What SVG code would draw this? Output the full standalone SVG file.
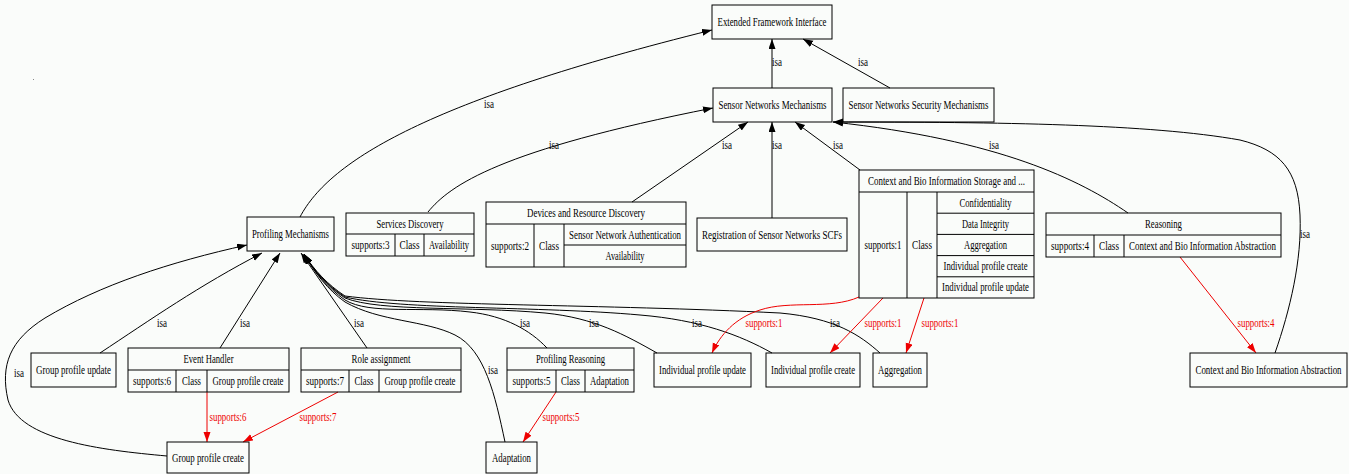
<svg xmlns="http://www.w3.org/2000/svg" width="1349" height="474" viewBox="0 0 1349 474">
<style>
text{font-family:"Liberation Serif","Times New Roman",serif;font-size:12px;text-anchor:middle;fill:#000;}
.n rect,.n line{stroke:#000;stroke-width:1;fill:none;}
.e path{fill:none;stroke:#000;stroke-width:1;}
.e path.r{stroke:#e00;}
text.rl{fill:#e00;}
</style>
<defs>
<marker id="ab" markerUnits="userSpaceOnUse" markerWidth="10" markerHeight="8" refX="10" refY="3.5" orient="auto"><path d="M0,0 L10,3.5 L0,7 z" fill="#000"/></marker>
<marker id="ar" markerUnits="userSpaceOnUse" markerWidth="10" markerHeight="8" refX="10" refY="3.5" orient="auto"><path d="M0,0 L10,3.5 L0,7 z" fill="#e00"/></marker>
</defs>
<rect x="0" y="0" width="1349" height="474" fill="#fafcfa"/>
<rect x="33" y="79" width="1" height="1" fill="#888"/>

<g class="e" id="edges">
<path d="M772,88 L772,39" marker-end="url(#ab)"/>
<text transform="translate(777,66) scale(.78,1)" textLength="12.8" lengthAdjust="spacingAndGlyphs">isa</text>
<path d="M890,88 L803,39" marker-end="url(#ab)"/>
<text transform="translate(863,66) scale(.78,1)" textLength="12.8" lengthAdjust="spacingAndGlyphs">isa</text>
<path d="M300,217 C330,160 430,100 712,30" marker-end="url(#ab)"/>
<text transform="translate(489,108) scale(.78,1)" textLength="12.8" lengthAdjust="spacingAndGlyphs">isa</text>
<path d="M428,212 C450,185 500,150 713,108" marker-end="url(#ab)"/>
<text transform="translate(554,149) scale(.78,1)" textLength="12.8" lengthAdjust="spacingAndGlyphs">isa</text>
<path d="M632,202 L748,122" marker-end="url(#ab)"/>
<text transform="translate(727,149) scale(.78,1)" textLength="12.8" lengthAdjust="spacingAndGlyphs">isa</text>
<path d="M772,218 L772,122" marker-end="url(#ab)"/>
<text transform="translate(777,149) scale(.78,1)" textLength="12.8" lengthAdjust="spacingAndGlyphs">isa</text>
<path d="M860,170 L795,122" marker-end="url(#ab)"/>
<text transform="translate(838,149) scale(.78,1)" textLength="12.8" lengthAdjust="spacingAndGlyphs">isa</text>
<path d="M1128,213 C1080,180 1000,140 833,122" marker-end="url(#ab)"/>
<text transform="translate(994,149) scale(.78,1)" textLength="12.8" lengthAdjust="spacingAndGlyphs">isa</text>
<path d="M1275,353 C1290,310 1302,260 1300,215 C1298,170 1280,150 1240,140 C1150,124 1000,122 833,122" marker-end="url(#ab)"/>
<text transform="translate(1305,238) scale(.78,1)" textLength="12.8" lengthAdjust="spacingAndGlyphs">isa</text>

<path d="M167,456 C100,450 20,440 8,400 C0,365 10,340 45,318 C100,285 170,262 247,245" marker-end="url(#ab)"/>
<text transform="translate(19,377) scale(.78,1)" textLength="12.8" lengthAdjust="spacingAndGlyphs">isa</text>
<path d="M100,353 C150,320 200,285 262,253" marker-end="url(#ab)"/>
<text transform="translate(162,327) scale(.78,1)" textLength="12.8" lengthAdjust="spacingAndGlyphs">isa</text>
<path d="M220,348 L280,253" marker-end="url(#ab)"/>
<text transform="translate(245,327) scale(.78,1)" textLength="12.8" lengthAdjust="spacingAndGlyphs">isa</text>
<path d="M367,348 L301,253" marker-end="url(#ab)"/>
<text transform="translate(359,327) scale(.78,1)" textLength="12.8" lengthAdjust="spacingAndGlyphs">isa</text>
<path d="M505,442 C495,395 485,350 455,335 C425,320 380,322 345,302 C328,290 314,272 304,254" marker-end="url(#ab)"/>
<text transform="translate(493,374) scale(.78,1)" textLength="12.8" lengthAdjust="spacingAndGlyphs">isa</text>
<path d="M547,348 C530,330 505,316 470,312 C420,306 370,315 345,300 C328,288 314,272 304,254" marker-end="url(#ab)"/>
<text transform="translate(525,327) scale(.78,1)" textLength="12.8" lengthAdjust="spacingAndGlyphs">isa</text>
<path d="M657,353 C625,335 595,318 545,313 C470,306 380,312 345,298 C328,287 314,271 304,254" marker-end="url(#ab)"/>
<text transform="translate(594,327) scale(.78,1)" textLength="12.8" lengthAdjust="spacingAndGlyphs">isa</text>
<path d="M772,353 C740,335 700,320 640,315 C540,306 400,310 345,297 C328,286 314,271 304,254" marker-end="url(#ab)"/>
<text transform="translate(697,327) scale(.78,1)" textLength="12.8" lengthAdjust="spacingAndGlyphs">isa</text>
<path d="M880,353 C860,335 835,318 780,313 C600,304 420,306 345,296 C328,285 314,270 304,254" marker-end="url(#ab)"/>
<text transform="translate(835,327) scale(.78,1)" textLength="12.8" lengthAdjust="spacingAndGlyphs">isa</text>

<path class="r" d="M859,297 C830,310 790,300 760,310 C735,318 720,335 712,353" marker-end="url(#ar)"/>
<text class="rl" transform="translate(764,327) scale(.78,1)" textLength="47.4" lengthAdjust="spacingAndGlyphs">supports:1</text>
<path class="r" d="M883,298 L830,353" marker-end="url(#ar)"/>
<text class="rl" transform="translate(883,327) scale(.78,1)" textLength="47.4" lengthAdjust="spacingAndGlyphs">supports:1</text>
<path class="r" d="M924,298 L906,353" marker-end="url(#ar)"/>
<text class="rl" transform="translate(940,327) scale(.78,1)" textLength="47.4" lengthAdjust="spacingAndGlyphs">supports:1</text>
<path class="r" d="M1180,257 L1256,353" marker-end="url(#ar)"/>
<text class="rl" transform="translate(1256,327) scale(.78,1)" textLength="47.4" lengthAdjust="spacingAndGlyphs">supports:4</text>
<path class="r" d="M207,392 L207,442" marker-end="url(#ar)"/>
<text class="rl" transform="translate(228,421) scale(.78,1)" textLength="47.4" lengthAdjust="spacingAndGlyphs">supports:6</text>
<path class="r" d="M338,392 L243,442" marker-end="url(#ar)"/>
<text class="rl" transform="translate(318,421) scale(.78,1)" textLength="47.4" lengthAdjust="spacingAndGlyphs">supports:7</text>
<path class="r" d="M556,392 L523,442" marker-end="url(#ar)"/>
<text class="rl" transform="translate(561,421) scale(.78,1)" textLength="47.4" lengthAdjust="spacingAndGlyphs">supports:5</text>
</g>

<g class="n" id="efi"><rect x="712" y="5" width="120" height="34"/><text transform="translate(772,26) scale(.78,1)" textLength="139.7" lengthAdjust="spacingAndGlyphs">Extended Framework Interface</text></g>
<g class="n" id="snm"><rect x="713" y="88" width="119" height="34"/><text transform="translate(772.5,109) scale(.78,1)" textLength="138.5" lengthAdjust="spacingAndGlyphs">Sensor Networks Mechanisms</text></g>
<g class="n" id="snsm"><rect x="843" y="88" width="151" height="34"/><text transform="translate(918.5,109) scale(.78,1)" textLength="179.5" lengthAdjust="spacingAndGlyphs">Sensor Networks Security Mechanisms</text></g>
<g class="n" id="pm"><rect x="247" y="217" width="87" height="34"/><text transform="translate(290.5,238) scale(.78,1)" textLength="98.7" lengthAdjust="spacingAndGlyphs">Profiling Mechanisms</text></g>

<g class="n" id="sd"><rect x="346" y="213" width="128" height="43"/><line x1="346" y1="234" x2="474" y2="234"/><line x1="395" y1="234" x2="395" y2="256"/><line x1="424" y1="234" x2="424" y2="256"/>
<text transform="translate(410,228) scale(.78,1)" textLength="85.9" lengthAdjust="spacingAndGlyphs">Services Discovery</text>
<text transform="translate(370.5,249) scale(.78,1)" textLength="48.7" lengthAdjust="spacingAndGlyphs">supports:3</text>
<text transform="translate(409.5,249) scale(.78,1)" textLength="25.6" lengthAdjust="spacingAndGlyphs">Class</text>
<text transform="translate(449,249) scale(.78,1)" textLength="51.3" lengthAdjust="spacingAndGlyphs">Availability</text></g>

<g class="n" id="drd"><rect x="486" y="202" width="200" height="65"/><line x1="486" y1="224" x2="686" y2="224"/><line x1="534" y1="224" x2="534" y2="267"/><line x1="564" y1="224" x2="564" y2="267"/><line x1="564" y1="245" x2="686" y2="245"/>
<text transform="translate(586,217) scale(.78,1)" textLength="151.3" lengthAdjust="spacingAndGlyphs">Devices and Resource Discovery</text>
<text transform="translate(510,250) scale(.78,1)" textLength="48.7" lengthAdjust="spacingAndGlyphs">supports:2</text>
<text transform="translate(549,250) scale(.78,1)" textLength="25.6" lengthAdjust="spacingAndGlyphs">Class</text>
<text transform="translate(625,239) scale(.78,1)" textLength="143.6" lengthAdjust="spacingAndGlyphs">Sensor Network Authentication</text>
<text transform="translate(625,260) scale(.78,1)" textLength="50" lengthAdjust="spacingAndGlyphs">Availability</text></g>

<g class="n" id="rsns"><rect x="697" y="218" width="150" height="33"/><text transform="translate(772,239) scale(.78,1)" textLength="179.5" lengthAdjust="spacingAndGlyphs">Registration of Sensor Networks SCFs</text></g>

<g class="n" id="cbis"><rect x="859" y="170" width="175" height="128"/><line x1="859" y1="192" x2="1034" y2="192"/><line x1="907" y1="192" x2="907" y2="298"/><line x1="937" y1="192" x2="937" y2="298"/>
<line x1="937" y1="213.2" x2="1034" y2="213.2"/><line x1="937" y1="234.4" x2="1034" y2="234.4"/><line x1="937" y1="255.6" x2="1034" y2="255.6"/><line x1="937" y1="276.8" x2="1034" y2="276.8"/>
<text transform="translate(946.5,185) scale(.78,1)" textLength="201.3" lengthAdjust="spacingAndGlyphs">Context and Bio Information Storage and ...</text>
<text transform="translate(883,249) scale(.78,1)" textLength="47.4" lengthAdjust="spacingAndGlyphs">supports:1</text>
<text transform="translate(922,249) scale(.78,1)" textLength="25.6" lengthAdjust="spacingAndGlyphs">Class</text>
<text transform="translate(985.5,206.6) scale(.78,1)" textLength="66.7" lengthAdjust="spacingAndGlyphs">Confidentiality</text>
<text transform="translate(985.5,227.8) scale(.78,1)" textLength="60.3" lengthAdjust="spacingAndGlyphs">Data Integrity</text>
<text transform="translate(985.5,249) scale(.78,1)" textLength="55.1" lengthAdjust="spacingAndGlyphs">Aggregation</text>
<text transform="translate(985.5,270.2) scale(.78,1)" textLength="107.7" lengthAdjust="spacingAndGlyphs">Individual profile create</text>
<text transform="translate(985.5,291.4) scale(.78,1)" textLength="111.5" lengthAdjust="spacingAndGlyphs">Individual profile update</text></g>

<g class="n" id="reasoning"><rect x="1046" y="213" width="235" height="44"/><line x1="1046" y1="235" x2="1281" y2="235"/><line x1="1094" y1="235" x2="1094" y2="257"/><line x1="1124" y1="235" x2="1124" y2="257"/>
<text transform="translate(1163.5,228) scale(.78,1)" textLength="47.4" lengthAdjust="spacingAndGlyphs">Reasoning</text>
<text transform="translate(1070,250) scale(.78,1)" textLength="48.7" lengthAdjust="spacingAndGlyphs">supports:4</text>
<text transform="translate(1109,250) scale(.78,1)" textLength="25.6" lengthAdjust="spacingAndGlyphs">Class</text>
<text transform="translate(1202.5,250) scale(.78,1)" textLength="188.5" lengthAdjust="spacingAndGlyphs">Context and Bio Information Abstraction</text></g>

<g class="n" id="cbia"><rect x="1190" y="353" width="157" height="34"/><text transform="translate(1268.5,374) scale(.78,1)" textLength="187.2" lengthAdjust="spacingAndGlyphs">Context and Bio Information Abstraction</text></g>

<g class="n" id="gpu"><rect x="31" y="353" width="85" height="34"/><text transform="translate(73.5,374) scale(.78,1)" textLength="96.2" lengthAdjust="spacingAndGlyphs">Group profile update</text></g>

<g class="n" id="eh"><rect x="128" y="348" width="161" height="44"/><line x1="128" y1="370" x2="289" y2="370"/><line x1="176" y1="370" x2="176" y2="392"/><line x1="207" y1="370" x2="207" y2="392"/>
<text transform="translate(208.5,363) scale(.78,1)" textLength="64.1" lengthAdjust="spacingAndGlyphs">Event Handler</text>
<text transform="translate(152,385) scale(.78,1)" textLength="48.7" lengthAdjust="spacingAndGlyphs">supports:6</text>
<text transform="translate(191.5,385) scale(.78,1)" textLength="24.4" lengthAdjust="spacingAndGlyphs">Class</text>
<text transform="translate(248,385) scale(.78,1)" textLength="91" lengthAdjust="spacingAndGlyphs">Group profile create</text></g>

<g class="n" id="ra"><rect x="301" y="348" width="160" height="44"/><line x1="301" y1="370" x2="461" y2="370"/><line x1="349" y1="370" x2="349" y2="392"/><line x1="379" y1="370" x2="379" y2="392"/>
<text transform="translate(381,363) scale(.78,1)" textLength="75.6" lengthAdjust="spacingAndGlyphs">Role assignment</text>
<text transform="translate(325,385) scale(.78,1)" textLength="48.7" lengthAdjust="spacingAndGlyphs">supports:7</text>
<text transform="translate(364,385) scale(.78,1)" textLength="24.4" lengthAdjust="spacingAndGlyphs">Class</text>
<text transform="translate(420,385) scale(.78,1)" textLength="91" lengthAdjust="spacingAndGlyphs">Group profile create</text></g>

<g class="n" id="pr"><rect x="507" y="348" width="127" height="44"/><line x1="507" y1="370" x2="634" y2="370"/><line x1="556" y1="370" x2="556" y2="392"/><line x1="585" y1="370" x2="585" y2="392"/>
<text transform="translate(570.5,363) scale(.78,1)" textLength="88.5" lengthAdjust="spacingAndGlyphs">Profiling Reasoning</text>
<text transform="translate(531.5,385) scale(.78,1)" textLength="48.7" lengthAdjust="spacingAndGlyphs">supports:5</text>
<text transform="translate(570.5,385) scale(.78,1)" textLength="24.4" lengthAdjust="spacingAndGlyphs">Class</text>
<text transform="translate(609.5,385) scale(.78,1)" textLength="50" lengthAdjust="spacingAndGlyphs">Adaptation</text></g>

<g class="n" id="gpc"><rect x="167" y="442" width="82" height="31"/><text transform="translate(208,462) scale(.78,1)" textLength="92.3" lengthAdjust="spacingAndGlyphs">Group profile create</text></g>
<g class="n" id="adaptation"><rect x="486" y="442" width="51" height="31"/><text transform="translate(511.5,462) scale(.78,1)" textLength="50" lengthAdjust="spacingAndGlyphs">Adaptation</text></g>
<g class="n" id="ipu"><rect x="654" y="353" width="97" height="34"/><text transform="translate(702.5,374) scale(.78,1)" textLength="111.5" lengthAdjust="spacingAndGlyphs">Individual profile update</text></g>
<g class="n" id="ipc"><rect x="766" y="353" width="94" height="34"/><text transform="translate(813,374) scale(.78,1)" textLength="107.7" lengthAdjust="spacingAndGlyphs">Individual profile create</text></g>
<g class="n" id="aggregation"><rect x="873" y="353" width="54" height="34"/><text transform="translate(900,374) scale(.78,1)" textLength="56.4" lengthAdjust="spacingAndGlyphs">Aggregation</text></g>
</svg>
